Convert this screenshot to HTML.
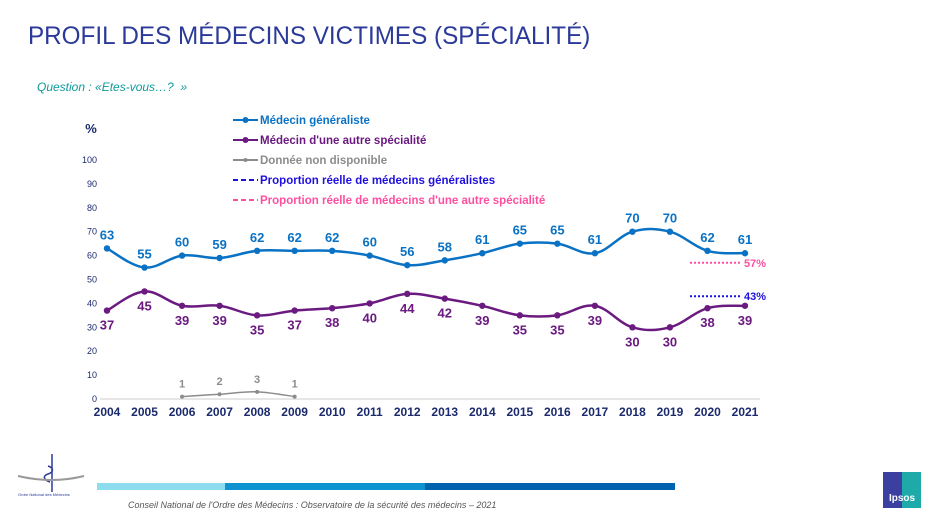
<!DOCTYPE html>
<html><head><meta charset="utf-8"><style>
body{margin:0;background:#fff;font-family:"Liberation Sans",sans-serif;}
#wrap{position:relative;width:943px;height:522px;overflow:hidden;background:#fff;}
</style></head><body>
<div id="wrap">
<div style="position:absolute;left:28px;top:22px;font-size:25px;color:#2b3a99;transform:scaleX(0.97);transform-origin:0 0;white-space:nowrap;">PROFIL DES MÉDECINS VICTIMES (SPÉCIALITÉ)</div>
<div style="position:absolute;left:37px;top:80px;font-size:12px;font-style:italic;color:#0e9a9a;">Question : «Etes-vous…?&nbsp; »</div>
<svg id="chart" width="943" height="522" style="position:absolute;left:0;top:0" font-family="Liberation Sans, sans-serif"></svg>
<div style="position:absolute;left:97px;top:483px;width:128px;height:7px;background:#8ddcf0"></div>
<div style="position:absolute;left:225px;top:483px;width:200px;height:7px;background:#0f92d0"></div>
<div style="position:absolute;left:425px;top:483px;width:250px;height:7px;background:#0063ae"></div>
<div style="position:absolute;left:128px;top:500px;font-size:9px;font-style:italic;color:#555;">Conseil National de l'Ordre des Médecins : Observatoire de la sécurité des médecins – 2021</div>
<div style="position:absolute;left:16px;top:452px;width:70px;height:40px;">
<svg width="70" height="45"><path d="M36 2v38M32 14c6 2 6 6 0 8s-4 6 2 8" stroke="#2b3a99" fill="none" stroke-width="1.5"/><path d="M2 24q34 8 66 0" stroke="#999" fill="none" stroke-width="2"/></svg></div>
<div style="position:absolute;left:18px;top:492px;font-size:4px;color:#2b3a99;">Ordre National des Médecins</div>
<div style="position:absolute;left:883px;top:472px;width:38px;height:36px;background:linear-gradient(90deg,#3a3fa0 50%,#1eaaa8 50%);color:#fff;font-size:10px;font-weight:bold;text-align:center;line-height:54px;">Ipsos</div>
</div>
<script>
const years=[2004,2005,2006,2007,2008,2009,2010,2011,2012,2013,2014,2015,2016,2017,2018,2019,2020,2021];
const generaliste=[63,55,60,59,62,62,62,60,56,58,61,65,65,61,70,70,62,61];
const autre=[37,45,39,39,35,37,38,40,44,42,39,35,35,39,30,30,38,39];
const ndYears=[2006,2007,2008,2009];
const ndValues=[1,2,3,1];
const yTicks=[0,10,20,30,40,50,60,70,80,90,100];
const realGen=[43];
const realAutre=[57];
const svg=document.getElementById('chart');
const NS='http://www.w3.org/2000/svg';
const x=y=>107+(y-2004)*(745-107)/17;
const yv=v=>399-v*2.39;
function mk(t,a){const e=document.createElementNS(NS,t);for(const k in a)e.setAttribute(k,a[k]);svg.appendChild(e);return e;}
function txt(s,xx,yy,a){const e=mk('text',Object.assign({x:xx,y:yy},a));e.textContent=s;return e;}
yTicks.forEach(t=>{const e=txt(t,97,yv(t)+3,{'font-size':9,fill:'#1a2a6c','text-anchor':'end'});

});
const pct=txt('%',91,133,{'font-size':13,'font-weight':'bold',fill:'#1a2a6c','text-anchor':'middle'});


const ax=mk('line',{x1:100,x2:760,y1:399,y2:399,stroke:'#ccc','stroke-width':1});


years.forEach(y=>{const e=txt(y,x(y),416,{'font-size':12,'font-weight':'bold',fill:'#1a2a6c','text-anchor':'middle'});

});
function smooth(pts){let d='M'+pts[0][0]+','+pts[0][1];for(let i=0;i<pts.length-1;i++){const p0=pts[i-1]||pts[i],p1=pts[i],p2=pts[i+1],p3=pts[i+2]||p2;const t=0.18;
d+=' C'+(p1[0]+(p2[0]-p0[0])*t)+','+(p1[1]+(p2[1]-p0[1])*t)+' '+(p2[0]-(p3[0]-p1[0])*t)+','+(p2[1]-(p3[1]-p1[1])*t)+' '+p2[0]+','+p2[1];}return d;}
function series(xs,vs,color,w,r,name,above,fs){
const p=mk('path',{d:smooth(xs.map((y,i)=>[x(y),yv(vs[i])])),fill:'none',stroke:color,'stroke-width':w});


xs.forEach((y,i)=>{const c=mk('circle',{cx:x(y),cy:yv(vs[i]),r:r,fill:color});


const t=txt(vs[i],x(y),above?yv(vs[i])-9:yv(vs[i])+19,{'font-size':fs,'font-weight':'bold',fill:color,'text-anchor':'middle'});

});}
series(years,generaliste,'#0a72c4',2.5,3.2,'generaliste',true,13);
series(years,autre,'#6b1a80',2.5,3.2,'autre-specialite',false,13);
series(ndYears,ndValues,'#8c8c8c',1.5,2,'donnee-non-disponible',true,11);
function ref(v,color,name){const l=mk('line',{x1:690,x2:742,y1:yv(v),y2:yv(v),stroke:color,'stroke-width':2,'stroke-dasharray':'2,2'});


const t=txt(v+'%',744,yv(v)+4,{'font-size':11,'font-weight':'bold',fill:color});

}
ref(realAutre[0],'#ff4fa0','proportion-autre');
ref(realGen[0],'#1f10e0','proportion-generalistes');
const leg=[['Médecin généraliste','#0a72c4','dot'],['Médecin d\'une autre spécialité','#6b1a80','dot'],['Donnée non disponible','#8c8c8c','small'],['Proportion réelle de médecins généralistes','#1f10e0','dash'],['Proportion réelle de médecins d\'une autre spécialité','#ff4fa0','dash']];
leg.forEach((l,i)=>{const yy=120+i*20;
const g=document.createElementNS(NS,'g');svg.appendChild(g);


const ln=document.createElementNS(NS,'line');[['x1',233],['x2',258],['y1',yy],['y2',yy],['stroke',l[1]],['stroke-width',2]].forEach(a=>ln.setAttribute(a[0],a[1]));
if(l[2]==='dash')ln.setAttribute('stroke-dasharray','5,3');g.appendChild(ln);
if(l[2]!=='dash'){const c=document.createElementNS(NS,'circle');c.setAttribute('cx',245.5);c.setAttribute('cy',yy);c.setAttribute('r',l[2]==='dot'?3:2);c.setAttribute('fill',l[1]);g.appendChild(c);}
const t=document.createElementNS(NS,'text');t.setAttribute('x',260);t.setAttribute('y',yy+4);t.setAttribute('font-size',11.5);t.setAttribute('font-weight','bold');t.setAttribute('fill',l[1]);t.textContent=l[0];g.appendChild(t);});
</script>
</body></html>
